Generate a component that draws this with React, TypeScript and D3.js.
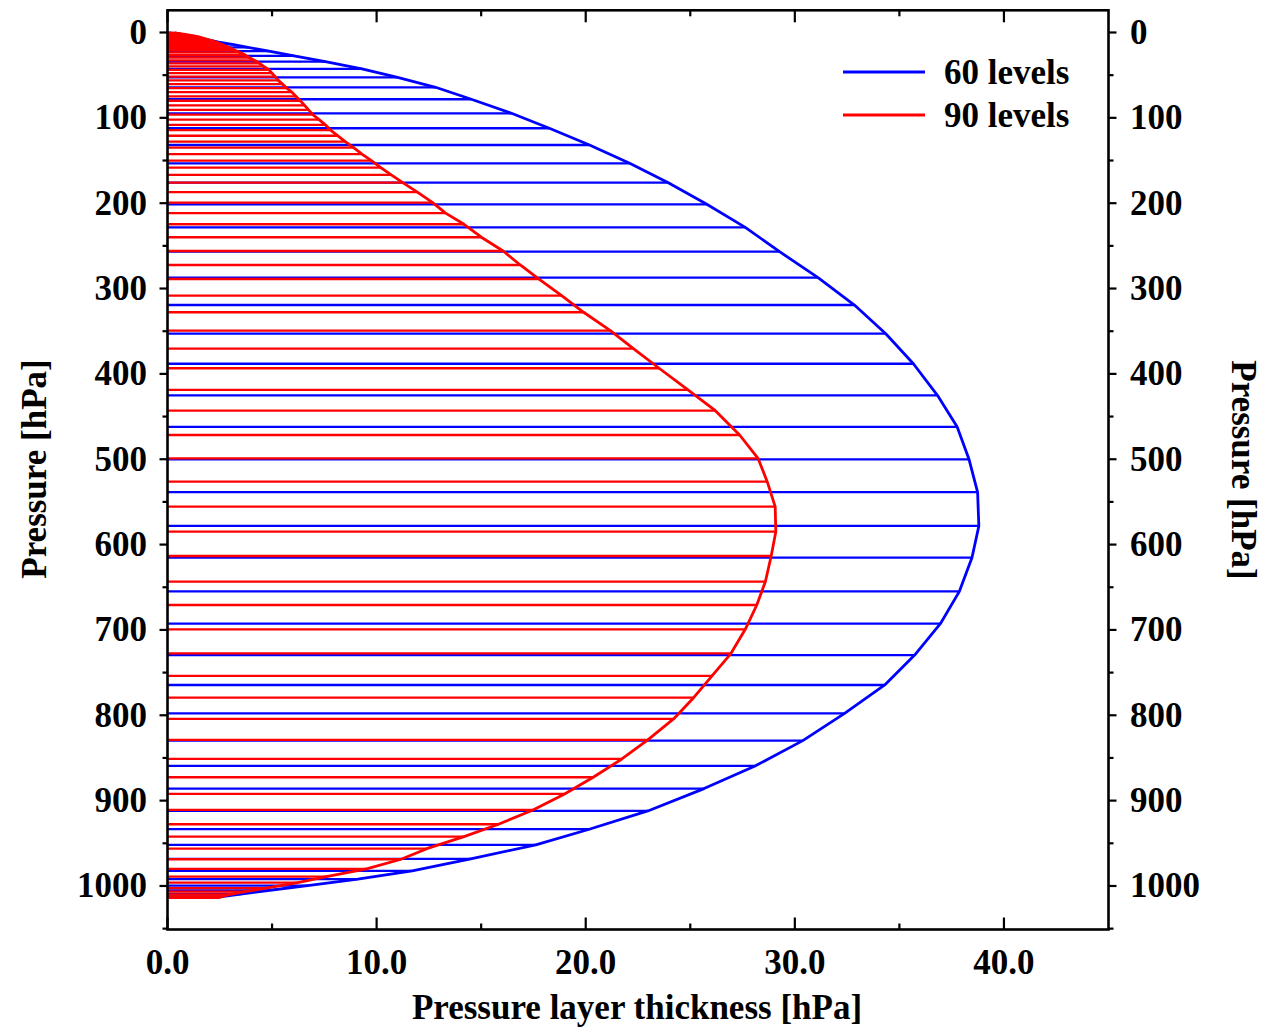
import React from "react";
import * as d3 from "d3";

// 60-level set: level pressure [hPa] and layer thickness [hPa]
const p60 = [0.4, 0.55, 0.75, 0.95, 1.2, 1.5, 1.9, 2.4, 3.0, 3.7, 4.6, 5.8, 7.2, 9.0, 11.2, 14.0, 17.5, 21.9, 27.4, 34.2, 42.6, 52.7,
  64.2, 78.2, 94.7, 112.2, 131.8, 153.3, 176.0, 201.3, 228.3, 256.8, 287.3, 319.3, 352.9, 388.1, 425.1, 462.0, 500.1, 538.6, 578.2,
  615.4, 654.8, 692.7, 729.5, 764.5, 797.7, 829.7, 859.4, 885.9, 912.1, 933.5, 951.9, 968.2, 982.2, 992.0, 999.5, 1005.3, 1009.4, 1012.5];
const dp60 = [0.1, 0.13, 0.17, 0.21, 0.27, 0.33, 0.42, 0.55, 0.65, 0.8, 1.0, 1.3, 1.6, 2.0, 2.45, 3.1, 3.85, 4.85, 6.05, 7.55, 9.3, 11.0,
  12.82, 14.53, 16.45, 18.26, 20.18, 22.1, 23.95, 25.79, 27.63, 29.27, 31.11, 32.85, 34.35, 35.67, 36.82, 37.76, 38.33, 38.74, 38.8,
  38.47, 37.87, 36.96, 35.73, 34.3, 32.38, 30.38, 28.1, 25.66, 22.97, 20.17, 17.61, 14.5, 11.7, 9.1, 6.7, 4.8, 3.5, 2.6];

// 90-level set
const p90 = [0.3, 0.7, 1.2, 1.7, 2.3, 3.1, 4.0, 5.2, 6.5, 8.0, 9.7, 11.5, 13.5, 15.7, 18.1, 20.6, 23.3, 26.2, 29.3, 32.6, 36.1, 39.8,
  43.7, 47.7, 51.8, 56.1, 60.5, 65.1, 69.9, 74.9, 80.0, 85.3, 90.7, 96.3, 102.1, 108.2, 114.5, 121.0, 127.8, 134.9, 142.4, 150.2,
  158.3, 166.9, 175.9, 187.0, 199.4, 211.6, 224.7, 239.9, 256.0, 272.4, 288.8, 308.3, 327.8, 349.3, 370.4, 393.4, 418.8, 443.1,
  471.6, 498.9, 526.3, 555.6, 584.9, 613.4, 643.5, 670.8, 699.3, 727.4, 753.9, 779.4, 804.3, 828.9, 851.2, 872.6, 892.2, 910.9,
  927.7, 942.2, 956.3, 968.7, 980.0, 989.1, 996.1, 1002.6, 1006.6, 1009.8, 1012.3, 1013.9];
const dp90 = [0.35, 0.45, 0.6, 0.7, 0.85, 1.05, 1.25, 1.5, 1.7, 1.9, 2.15, 2.35, 2.55, 2.75, 3.0, 3.2, 3.45, 3.7, 3.9, 4.15, 4.4, 4.6,
  4.85, 5.0, 5.15, 5.3, 5.5, 5.7, 5.95, 6.15, 6.35, 6.55, 6.75, 6.95, 7.25, 7.55, 7.8, 8.15, 8.5, 8.9, 9.3, 9.75,
  10.2, 10.7, 11.25, 11.95, 12.68, 13.3, 14.18, 15.01, 16.05, 16.87, 17.75, 18.85, 19.9, 21.18, 22.28, 23.51, 24.89, 26.2,
  27.36, 28.24, 28.68, 29.06, 29.09, 28.87, 28.59, 28.18, 27.63, 26.95, 26.04, 25.16, 24.2, 22.97, 21.73, 20.36, 18.99, 17.48,
  15.83, 14.18, 12.4, 11.17, 9.52, 7.6, 6.23, 4.72, 3.7, 3.0, 2.6, 2.5];

const yMajor = [0, 100, 200, 300, 400, 500, 600, 700, 800, 900, 1000];
const yMinor = [50, 150, 250, 350, 450, 550, 650, 750, 850, 950, 1050];
const xMajor = [0, 10, 20, 30, 40];
const xMinor = [5, 15, 25, 35];
const xLabels = ["0.0", "10.0", "20.0", "30.0", "40.0"];
const legendNames = ["60 levels", "90 levels"];
const colors = ["#0000ff", "#ff0000"];

const W = 1268;
const H = 1027;
const FONT = "'Liberation Serif', 'Times New Roman', serif";

export default function App() {
  const x = d3.scaleLinear().domain([0, 45]).range([167.5, 1108.5]);
  const y = d3.scaleLinear().domain([-26, 1051]).range([10.3, 929.5]);
  const [x0, x1] = x.range();
  const [y0, y1] = y.range();

  const series = [
    { p: p60, dp: dp60, color: colors[0] },
    { p: p90, dp: dp90, color: colors[1] },
  ];
  const line = d3
    .line<[number, number]>()
    .x((d) => x(d[0]))
    .y((d) => y(d[1]));

  const txt = {
    fontFamily: FONT,
    fontWeight: 700,
    fontSize: 35,
    fill: "#000",
  } as const;

  return (
    <svg
      width={W}
      height={H}
      style={{ position: "absolute", left: 0, top: 0, background: "#fff" }}
    >
      <rect x={0} y={0} width={W} height={H} fill="#fff" />
      {series.map((s, si) => (
        <g key={si}>
          {s.p.map((p, i) => (
            <line
              key={i}
              x1={x(0)}
              x2={x(s.dp[i])}
              y1={y(p)}
              y2={y(p)}
              stroke={s.color}
              strokeWidth={2.3}
            />
          ))}
          <path
            d={line(s.p.map((p, i) => [s.dp[i], p] as [number, number])) || ""}
            fill="none"
            stroke={s.color}
            strokeWidth={2.8}
            strokeLinejoin="round"
          />
        </g>
      ))}

      {/* frame */}
      <rect x={x0} y={y0} width={x1 - x0} height={y1 - y0} fill="none" stroke="#000" strokeWidth={2.6} />

      {/* x ticks (inward, bottom and top) */}
      {xMajor.map((v) => (
        <g key={"xM" + v}>
          <line x1={x(v)} x2={x(v)} y1={y1} y2={y1 - 12} stroke="#000" strokeWidth={2.2} />
          <line x1={x(v)} x2={x(v)} y1={y0} y2={y0 + 12} stroke="#000" strokeWidth={2.2} />
        </g>
      ))}
      {xMinor.map((v) => (
        <g key={"xm" + v}>
          <line x1={x(v)} x2={x(v)} y1={y1} y2={y1 - 6} stroke="#000" strokeWidth={2.2} />
          <line x1={x(v)} x2={x(v)} y1={y0} y2={y0 + 6} stroke="#000" strokeWidth={2.2} />
        </g>
      ))}
      {/* y ticks (outward, left and right) */}
      {yMajor.map((v) => (
        <g key={"yM" + v}>
          <line x1={x0} x2={x0 - 8} y1={y(v)} y2={y(v)} stroke="#000" strokeWidth={2.2} />
          <line x1={x1} x2={x1 + 8} y1={y(v)} y2={y(v)} stroke="#000" strokeWidth={2.2} />
        </g>
      ))}
      {yMinor.map((v) => (
        <g key={"ym" + v}>
          <line x1={x0} x2={x0 - 5} y1={y(v)} y2={y(v)} stroke="#000" strokeWidth={2.2} />
          <line x1={x1} x2={x1 + 5} y1={y(v)} y2={y(v)} stroke="#000" strokeWidth={2.2} />
        </g>
      ))}

      {/* tick labels */}
      {yMajor.map((v) => (
        <g key={"yl" + v}>
          <text x={147} y={y(v) + 11.5} textAnchor="end" {...txt}>
            {v}
          </text>
          <text x={1130} y={y(v) + 11.5} textAnchor="start" {...txt}>
            {v}
          </text>
        </g>
      ))}
      {xMajor.map((v, i) => (
        <text key={"xl" + v} x={x(v)} y={974} textAnchor="middle" {...txt}>
          {xLabels[i]}
        </text>
      ))}

      {/* axis titles */}
      <text x={637} y={1019} textAnchor="middle" {...txt}>
        Pressure layer thickness [hPa]
      </text>
      <text transform="translate(46,469) rotate(-90)" textAnchor="middle" {...txt}>
        Pressure [hPa]
      </text>
      <text transform="translate(1232,470) rotate(90)" textAnchor="middle" {...txt}>
        Pressure [hPa]
      </text>

      {/* legend */}
      {legendNames.map((n, i) => (
        <g key={n}>
          <line x1={843} x2={925} y1={72 + i * 43} y2={72 + i * 43} stroke={colors[i]} strokeWidth={3} />
          <text x={944} y={84 + i * 43} {...txt}>
            {n}
          </text>
        </g>
      ))}
    </svg>
  );
}
